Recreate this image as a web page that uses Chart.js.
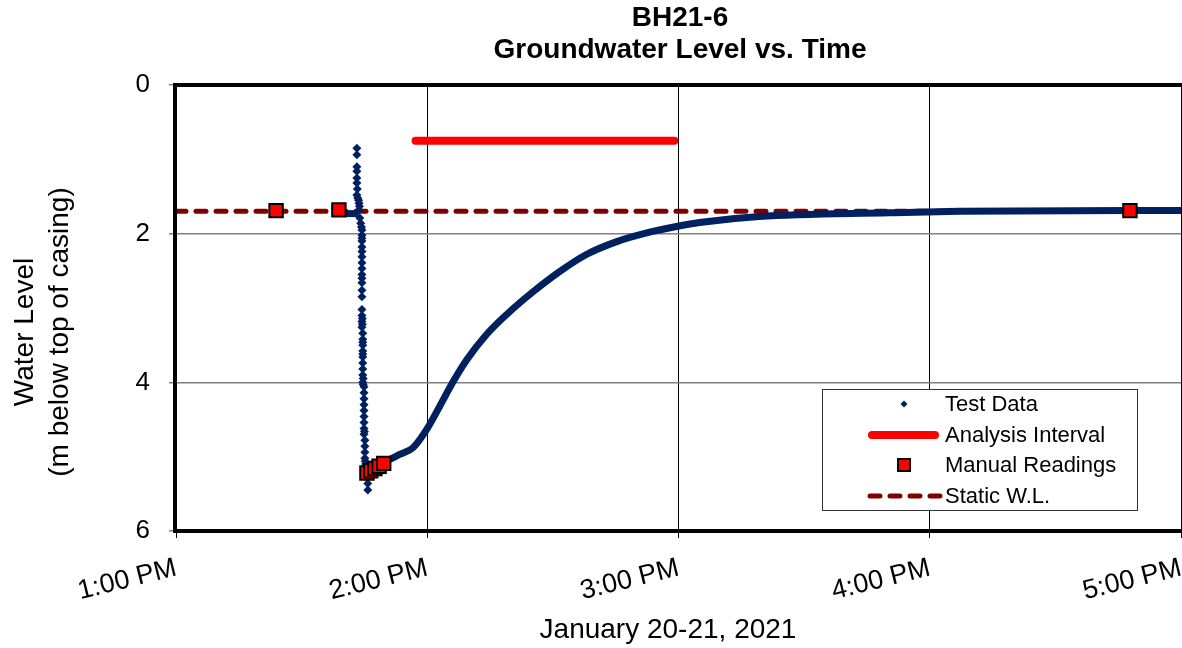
<!DOCTYPE html>
<html>
<head>
<meta charset="utf-8">
<script src="https://cdn.jsdelivr.net/npm/chart.js@4.4.1/dist/chart.umd.min.js"></script>
<style>
  html, body { margin: 0; padding: 0; background: #fff; }
  #wrap { width: 1182px; height: 648px; }
</style>
</head>
<body>
<div id="wrap"><canvas id="myChart" width="1182" height="648"></canvas></div>
<script>
// x values are minutes after 1:00 PM, levels are m below top of casing
const hourTicks = ['1:00 PM', '2:00 PM', '3:00 PM', '4:00 PM', '5:00 PM']

// scattered logger points during the drop
const dropMin = [43.2, 43.2, 43.2, 43.2, 43.2, 43.2, 43.3, 43.2, 43.4, 43.6, 43.7, 43.8, 43.7, 43.9, 44.1,
  44.3, 44.4, 44.4, 44.4, 44.4, 44.4, 44.4, 44.4, 44.4, 44.4, 44.4, 44.4, 44.4, 44.4,
  44.4, 44.4, 44.4, 44.5, 44.4, 44.5, 44.4, 44.6, 44.6, 44.6, 44.6, 44.6, 44.6, 44.6, 44.6, 44.6,
  44.6, 44.7, 44.6, 44.7, 44.9, 44.9, 44.9, 44.9, 44.9, 44.9, 44.9, 44.9, 45.0, 44.9, 45.1, 45.1,
  45.1, 45.1, 45.2, 45.3, 45.5, 45.6, 45.8, 45.8]
const dropLevel = [0.85, 0.94, 1.1, 1.16, 1.25, 1.32, 1.4, 1.48, 1.52, 1.55, 1.59, 1.63, 1.68, 1.79, 1.86,
  1.91, 1.95, 2.02, 2.06, 2.1, 2.18, 2.24, 2.31, 2.39, 2.47, 2.55, 2.6, 2.66, 2.76, 2.85,
  3.02, 3.1, 3.14, 3.18, 3.22, 3.26, 3.34, 3.42, 3.46, 3.5, 3.58, 3.62, 3.66, 3.74, 3.82,
  3.9, 3.95, 4.0, 4.03, 4.06, 4.14, 4.22, 4.3, 4.38, 4.46, 4.54, 4.62, 4.66, 4.7, 4.78, 4.86,
  4.94, 5.02, 5.06, 5.1, 5.18, 5.28, 5.36, 5.45, 5.53]

// continuous part of the logger record (pre-test and recovery)
const preMin = [40.3, 43.6]
const preLevel = [1.73, 1.73]
const recoveryMin = [45.3, 46.3, 49.6, 53.4, 56.6, 59.8, 63.0, 66.2, 69.4, 74.1, 78.9, 85.3,
  91.6, 98.0, 105.1, 113.1, 119.8, 125.0, 139.3, 170.3, 187, 228, 240]
const recoveryLevel = [5.2, 5.12, 5.07, 4.97, 4.88, 4.64, 4.32, 3.99, 3.7, 3.36, 3.09, 2.78,
  2.51, 2.28, 2.11, 1.98, 1.9, 1.85, 1.77, 1.72, 1.7, 1.69, 1.69]

const manualMin = [23.9, 38.9, 45.6, 46.5, 47.5, 48.5, 49.6, 227.8]
const manualLevel = [1.69, 1.68, 5.22, 5.19, 5.16, 5.13, 5.09, 1.69]

const analysisMin = [57.2, 119.0]
const analysisLevel = [0.75, 0.75]

const staticMin = [0, 240]
const staticLevel = [1.7, 1.7]

const navy = '#002060'
const font = "'Liberation Sans', Arial, sans-serif"

const pts = (xs, ys) => xs.map((x, i) => ({ x, y: ys[i] }))

const framePlugin = {
  id: 'frame',
  afterDatasetsDraw(chart) {
    const { ctx, chartArea: a } = chart
    ctx.save()
    ctx.strokeStyle = '#000'
    ctx.lineWidth = 4
    ctx.strokeRect(a.left - 1, a.top, a.right - a.left + 4, a.bottom - a.top)
    ctx.restore()
  },
  afterDraw(chart) {
    const { ctx } = chart
    ctx.save()
    ctx.fillStyle = '#000'
    ctx.textAlign = 'center'
    ctx.textBaseline = 'middle'
    // main title
    ctx.font = 'bold 28px ' + font
    ctx.fillText('BH21-6', 680, 18)
    ctx.fillText('Groundwater Level vs. Time', 680, 50)
    // axis titles
    ctx.font = '28px ' + font
    ctx.fillText('January 20-21, 2021', 668, 630)
    ctx.save()
    ctx.translate(25, 332)
    ctx.rotate(-Math.PI / 2)
    ctx.fillText('Water Level', 0, 0)
    ctx.restore()
    ctx.save()
    ctx.translate(60, 332)
    ctx.rotate(-Math.PI / 2)
    ctx.fillText('(m below top of casing)', 0, 0)
    ctx.restore()

    // legend box
    ctx.fillStyle = '#fff'
    ctx.fillRect(822, 389, 315, 121)
    ctx.strokeStyle = '#333'
    ctx.lineWidth = 1
    ctx.strokeRect(822.5, 389.5, 315, 121)
    ctx.font = '22px ' + font
    ctx.textAlign = 'left'
    ctx.fillStyle = '#000'
    const rows = [404, 435, 465, 496]
    const labels = ['Test Data', 'Analysis Interval', 'Manual Readings', 'Static W.L.']
    labels.forEach((t, i) => ctx.fillText(t, 945, rows[i] + 1))
    // test data diamond
    ctx.fillStyle = navy
    ctx.beginPath()
    ctx.moveTo(904, rows[0] - 3.5)
    ctx.lineTo(907.5, rows[0])
    ctx.lineTo(904, rows[0] + 3.5)
    ctx.lineTo(900.5, rows[0])
    ctx.closePath()
    ctx.fill()
    // analysis line
    ctx.lineCap = 'round'
    ctx.strokeStyle = '#ff0000'
    ctx.lineWidth = 8
    ctx.beginPath()
    ctx.moveTo(872, rows[1])
    ctx.lineTo(935, rows[1])
    ctx.stroke()
    // manual square
    ctx.fillStyle = '#ff0000'
    ctx.fillRect(898, rows[2] - 6, 12, 12)
    ctx.strokeStyle = '#000'
    ctx.lineWidth = 2
    ctx.strokeRect(898, rows[2] - 6, 12, 12)
    // static dashes
    ctx.strokeStyle = '#800000'
    ctx.lineWidth = 5
    ctx.setLineDash([10, 10])
    ctx.beginPath()
    ctx.moveTo(870, rows[3])
    ctx.lineTo(940, rows[3])
    ctx.stroke()
    ctx.restore()
  },
}

new Chart(document.getElementById('myChart'), {
  type: 'scatter',
  data: {
    datasets: [
      {
        label: 'Manual Readings',
        data: pts(manualMin, manualLevel),
        pointStyle: 'rect',
        pointRadius: 9.5,
        backgroundColor: '#ff0000',
        borderColor: '#000',
        pointBorderWidth: 2,
        showLine: false,
      },
      {
        label: 'Test Data',
        data: pts(dropMin, dropLevel),
        pointStyle: 'rectRot',
        pointRadius: 4.5,
        backgroundColor: navy,
        borderColor: navy,
        pointBorderWidth: 0,
        showLine: false,
      },
      {
        label: 'Test Data (pre)',
        data: pts(preMin, preLevel),
        showLine: true,
        borderColor: navy,
        borderWidth: 7,
        pointRadius: 0,
      },
      {
        label: 'Test Data (recovery)',
        data: pts(recoveryMin, recoveryLevel),
        showLine: true,
        borderColor: navy,
        borderWidth: 7,
        borderJoinStyle: 'round',
        cubicInterpolationMode: 'monotone',
        pointRadius: 0,
      },
      {
        label: 'Analysis Interval',
        data: pts(analysisMin, analysisLevel),
        showLine: true,
        borderColor: '#ff0000',
        borderWidth: 8,
        borderCapStyle: 'round',
        pointRadius: 0,
      },
      {
        label: 'Static W.L.',
        data: pts(staticMin, staticLevel),
        showLine: true,
        borderColor: '#800000',
        borderWidth: 5,
        borderDash: [10, 10],
        borderCapStyle: 'round',
        pointRadius: 0,
      },
    ],
  },
  options: {
    responsive: false,
    animation: false,
    events: [],
    layout: { autoPadding: false, padding: { top: 85, right: 1, left: 0, bottom: 0 } },
    plugins: {
      legend: { display: false },
      title: { display: false },
      tooltip: { enabled: false },
    },
    scales: {
      x: {
        type: 'linear',
        min: 0,
        max: 240,
        afterBuildTicks: (scale) => {
          scale.ticks = [0, 60, 120, 180, 240].map((v) => ({ value: v }))
        },
        afterFit: (scale) => {
          scale.height = 117
          scale.paddingLeft = 0
          scale.paddingRight = 0
        },
        grid: { color: '#000', lineWidth: 1, tickLength: 7, tickColor: '#000' },
        border: { display: false },
        ticks: {
          minRotation: 14,
          maxRotation: 14,
          padding: 14,
          color: '#000',
          font: { family: font, size: 27 },
          callback: (v) => hourTicks[v / 60],
        },
      },
      y: {
        reverse: true,
        min: 0,
        max: 6,
        afterFit: (scale) => {
          scale.width = 176
          scale.paddingTop = 0
          scale.paddingBottom = 0
        },
        grid: { color: '#808080', lineWidth: 1.5, tickLength: 7, tickColor: '#808080' },
        border: { display: false },
        ticks: {
          stepSize: 2,
          padding: 19,
          color: '#000',
          font: { family: font, size: 26 },
        },
      },
    },
  },
  plugins: [framePlugin],
})
</script>
</body>
</html>
